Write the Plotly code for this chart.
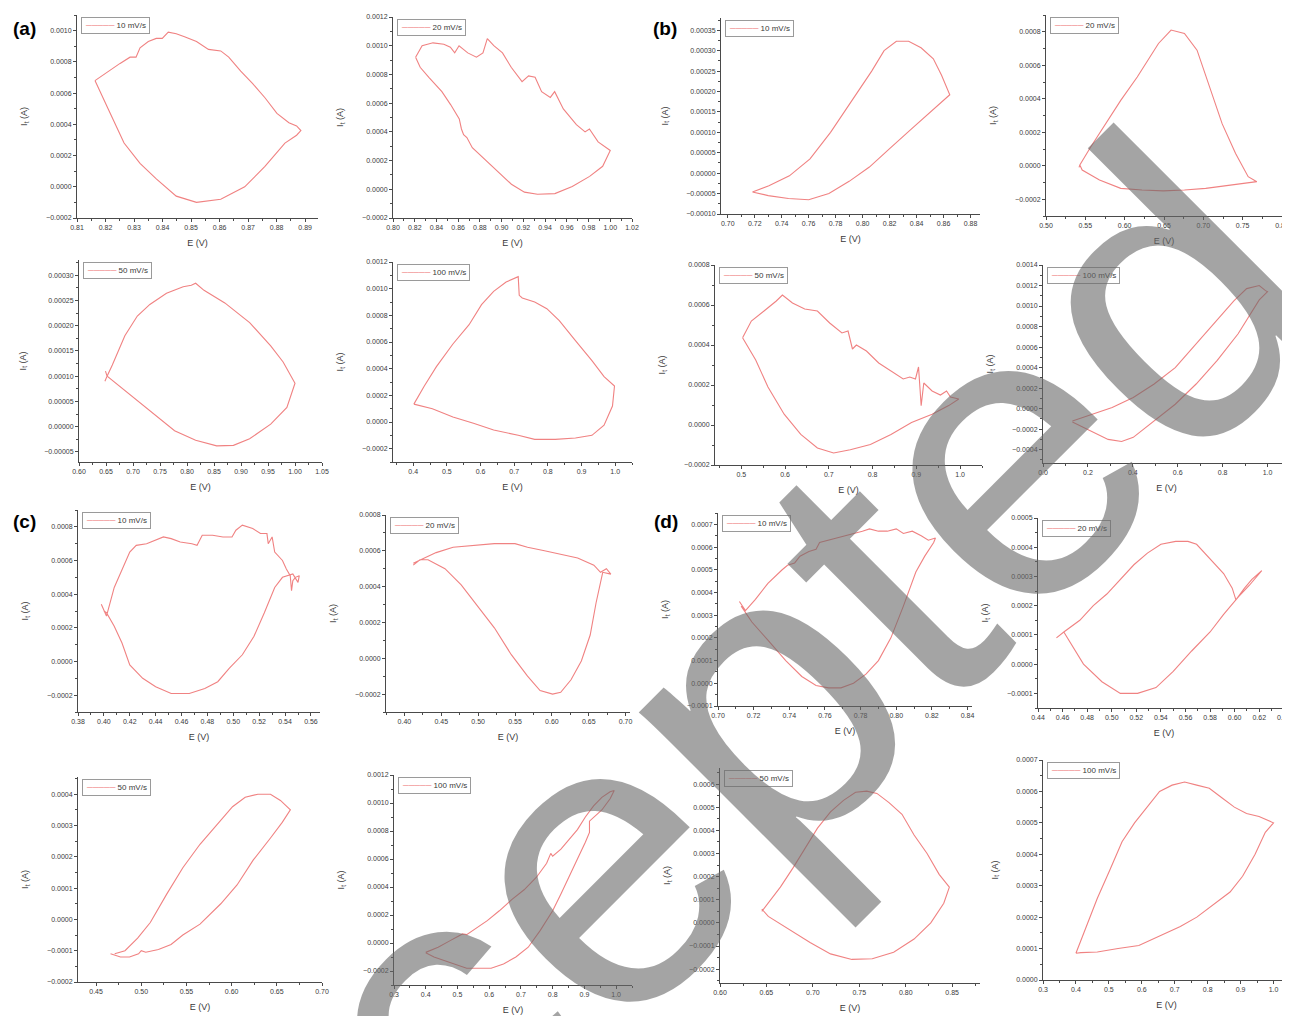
import plotly.graph_objects as go

# ---------------- data (E in V, I in A) ----------------
a10_E = [0.8163, 0.8209, 0.8251, 0.8286, 0.8307, 0.8321, 0.8350, 0.8378, 0.8399, 0.8420, 0.8448, 0.8477, 0.8519, 0.8561, 0.8604, 0.8632, 0.8674, 0.8716, 0.8759, 0.8801, 0.8843, 0.8870, 0.8885, 0.8870, 0.8829, 0.8759, 0.8688, 0.8604, 0.8519, 0.8448, 0.8378, 0.8321, 0.8265, 0.8209, 0.8163]
a10_I = [0.00068, 0.00074, 0.00079, 0.00083, 0.00083, 0.00089, 0.00093, 0.00095, 0.00095, 0.00099, 0.00098, 0.00096, 0.00093, 0.00088, 0.00087, 0.00083, 0.00074, 0.00066, 0.00057, 0.00047, 0.00041, 0.00039, 0.00036, 0.00033, 0.00028, 0.00013, 0.0, -0.00008, -0.0001, -0.00006, 0.00005, 0.00015, 0.00028, 0.0005, 0.00068]

a20_E = [0.8208, 0.8268, 0.8368, 0.8468, 0.8528, 0.8568, 0.8608, 0.8688, 0.8768, 0.8828, 0.8868, 0.8928, 0.9008, 0.9088, 0.9188, 0.9248, 0.9308, 0.9368, 0.9448, 0.9488, 0.9568, 0.9688, 0.9768, 0.9808, 0.9888, 1.0, 0.993, 0.981, 0.965, 0.949, 0.933, 0.921, 0.909, 0.897, 0.885, 0.873, 0.868, 0.865, 0.863, 0.861, 0.853, 0.845, 0.833, 0.825, 0.8208]
a20_I = [0.00092, 0.0010, 0.00102, 0.00101, 0.00099, 0.00095, 0.0010, 0.00095, 0.00092, 0.00095, 0.00105, 0.0010, 0.00095, 0.00085, 0.00075, 0.00079, 0.00078, 0.00068, 0.00064, 0.00068, 0.00056, 0.00045, 0.00040, 0.00042, 0.00033, 0.00027, 0.00016, 0.00009, 0.00002, -0.00003, -0.000035, -0.00002, 0.000035, 0.00012, 0.00021, 0.00029, 0.00036, 0.00038, 0.00042, 0.00049, 0.00059, 0.00068, 0.00078, 0.00085, 0.00092]

a50_E = [0.649, 0.652, 0.6617, 0.6849, 0.708, 0.7312, 0.762, 0.7929, 0.808, 0.816, 0.8315, 0.870, 0.916, 0.955, 0.978, 1.0, 0.985, 0.955, 0.916, 0.886, 0.855, 0.816, 0.777, 0.739, 0.700, 0.670, 0.652, 0.648]
a50_I = [0.00011, 0.00010, 0.000122, 0.00018, 0.000219, 0.000242, 0.000264, 0.000277, 0.00028, 0.000284, 0.00027, 0.000245, 0.000206, 0.00016, 0.000128, 0.000086, 0.000038, 0.000005, -0.000024, -0.000037, -0.000038, -0.000027, -0.000008, 0.000025, 0.000057, 0.000083, 0.0001, 0.00009]

a100_E = [0.402, 0.433, 0.469, 0.518, 0.566, 0.603, 0.639, 0.676, 0.712, 0.715, 0.724, 0.761, 0.797, 0.834, 0.882, 0.931, 0.967, 0.998, 0.992, 0.967, 0.931, 0.882, 0.822, 0.761, 0.712, 0.639, 0.579, 0.518, 0.457, 0.402]
a100_I = [0.000134, 0.00027, 0.000415, 0.000585, 0.00073, 0.00088, 0.00098, 0.00105, 0.00109, 0.00095, 0.00093, 0.0009, 0.00085, 0.00076, 0.00061, 0.00046, 0.00034, 0.00027, 0.00012, -0.000024, -0.0001, -0.00012, -0.00013, -0.00013, -0.0001, -0.00006, -0.00001, 0.000037, 0.0001, 0.000134]

b10_E = [0.7183, 0.7305, 0.7457, 0.761, 0.7762, 0.7915, 0.8067, 0.8159, 0.825, 0.8341, 0.8433, 0.8524, 0.8585, 0.8646, 0.850, 0.835, 0.820, 0.805, 0.790, 0.775, 0.760, 0.745, 0.730, 0.7183]
b10_I = [-0.000046, -0.000031, -0.0000066, 0.000035, 0.0001, 0.000175, 0.00025, 0.0003, 0.000323, 0.000323, 0.000307, 0.00028, 0.00024, 0.000192, 0.00015, 0.000105, 0.00006, 0.000015, -0.00002, -0.00005, -0.000065, -0.000062, -0.000055, -0.000046]

b20_E = [0.542, 0.543, 0.557, 0.573, 0.595, 0.616, 0.635, 0.643, 0.659, 0.676, 0.692, 0.708, 0.724, 0.741, 0.757, 0.768, 0.752, 0.730, 0.703, 0.676, 0.649, 0.622, 0.595, 0.568, 0.546, 0.543]
b20_I = [-0.00001, 0.000004, 0.000113, 0.00023, 0.00039, 0.00053, 0.00067, 0.00073, 0.00081, 0.00079, 0.00069, 0.00047, 0.00025, 0.000073, -0.000065, -0.000095, -0.000105, -0.000115, -0.000135, -0.000145, -0.00015, -0.000145, -0.000135, -0.000085, -0.000026, 0.000004]

b50_E = [0.503, 0.523, 0.552, 0.580, 0.594, 0.617, 0.645, 0.674, 0.702, 0.730, 0.744, 0.754, 0.763, 0.786, 0.814, 0.842, 0.870, 0.885, 0.898, 0.905, 0.911, 0.917, 0.936, 0.955, 0.969, 0.978, 0.997, 0.974, 0.936, 0.889, 0.842, 0.795, 0.749, 0.711, 0.674, 0.636, 0.598, 0.561, 0.533, 0.503]
b50_I = [0.000436, 0.00052, 0.00057, 0.00062, 0.00065, 0.00061, 0.00058, 0.00057, 0.00051, 0.00046, 0.00047, 0.00038, 0.00040, 0.00037, 0.00031, 0.00027, 0.00023, 0.00024, 0.00023, 0.00029, 0.000097, 0.00021, 0.00017, 0.00015, 0.00017, 0.00014, 0.00013, 0.000097, 0.000054, 0.000012, -0.000047, -0.000098, -0.000124, -0.00014, -0.000115, -0.000047, 0.000054, 0.00019, 0.000325, 0.000436]

b100_E = [0.131, 0.215, 0.308, 0.402, 0.495, 0.589, 0.682, 0.776, 0.850, 0.907, 0.963, 0.991, 1.0, 0.963, 0.925, 0.869, 0.776, 0.682, 0.589, 0.495, 0.402, 0.350, 0.290, 0.215, 0.131]
b100_I = [-0.00012, -0.000056, 0.00001, 0.000108, 0.00024, 0.0004, 0.00063, 0.00086, 0.00105, 0.00117, 0.0012, 0.00115, 0.00114, 0.00106, 0.00093, 0.00073, 0.00047, 0.00024, 0.000043, -0.00012, -0.00028, -0.00032, -0.0003, -0.00022, -0.00013]

c10_E = [0.398, 0.402, 0.408, 0.414, 0.420, 0.425, 0.433, 0.446, 0.452, 0.459, 0.468, 0.472, 0.476, 0.484, 0.492, 0.499, 0.502, 0.507, 0.515, 0.521, 0.526, 0.527, 0.530, 0.532, 0.538, 0.541, 0.544, 0.545, 0.546, 0.548, 0.551, 0.550, 0.546, 0.538, 0.532, 0.524, 0.516, 0.507, 0.497, 0.488, 0.478, 0.466, 0.452, 0.440, 0.430, 0.420, 0.414, 0.408, 0.402, 0.400]
c10_I = [0.00034, 0.00027, 0.00044, 0.00055, 0.00065, 0.00069, 0.00070, 0.00074, 0.00073, 0.00071, 0.00070, 0.00069, 0.00075, 0.00075, 0.00074, 0.00074, 0.00078, 0.00081, 0.00079, 0.00076, 0.00076, 0.00070, 0.00074, 0.00065, 0.00060, 0.00055, 0.00051, 0.00042, 0.00048, 0.00050, 0.00051, 0.00047, 0.00052, 0.00050, 0.00044, 0.00029, 0.00015, 0.00004, -0.00004, -0.00012, -0.00016, -0.00019, -0.00019, -0.00015, -0.0001, -0.00002, 0.00011, 0.00021, 0.00029, 0.00030]

c20_E = [0.412, 0.427, 0.443, 0.466, 0.494, 0.522, 0.550, 0.567, 0.590, 0.612, 0.635, 0.657, 0.666, 0.674, 0.680, 0.669, 0.660, 0.652, 0.640, 0.626, 0.612, 0.601, 0.584, 0.567, 0.545, 0.522, 0.500, 0.477, 0.455, 0.432, 0.421, 0.412]
c20_I = [0.00053, 0.00056, 0.00059, 0.00062, 0.00063, 0.00064, 0.00064, 0.00062, 0.00060, 0.00058, 0.00056, 0.00052, 0.00048, 0.00050, 0.00047, 0.00048, 0.00031, 0.00013, -0.000015, -0.00012, -0.00019, -0.0002, -0.00018, -0.0001, 0.00002, 0.00017, 0.00029, 0.00041, 0.00050, 0.00055, 0.00055, 0.00052]

d10_E = [0.712, 0.7154, 0.721, 0.728, 0.736, 0.739, 0.743, 0.746, 0.751, 0.755, 0.757, 0.762, 0.766, 0.771, 0.776, 0.781, 0.785, 0.790, 0.795, 0.800, 0.804, 0.809, 0.814, 0.818, 0.822, 0.821, 0.816, 0.811, 0.804, 0.797, 0.790, 0.783, 0.776, 0.769, 0.762, 0.755, 0.747, 0.738, 0.728, 0.719, 0.713]
d10_I = [0.00036, 0.00032, 0.00037, 0.00044, 0.00050, 0.00052, 0.00053, 0.00056, 0.00058, 0.00059, 0.00062, 0.00063, 0.00064, 0.00065, 0.00066, 0.00067, 0.00068, 0.00067, 0.00067, 0.00068, 0.00066, 0.00067, 0.00065, 0.00063, 0.00064, 0.00062, 0.00056, 0.00049, 0.00034, 0.00020, 0.00010, 0.00004, 0.0, -0.00002, -0.00002, -0.00001, 0.00003, 0.00010, 0.00019, 0.00027, 0.00034]

d20_E = [0.455, 0.461, 0.474, 0.485, 0.496, 0.507, 0.518, 0.529, 0.540, 0.552, 0.562, 0.569, 0.580, 0.591, 0.598, 0.601, 0.608, 0.614, 0.622, 0.612, 0.603, 0.591, 0.580, 0.565, 0.550, 0.536, 0.521, 0.507, 0.492, 0.477, 0.461]
d20_I = [0.00009, 0.00011, 0.00015, 0.00020, 0.00024, 0.00029, 0.00034, 0.00038, 0.00041, 0.00042, 0.00042, 0.00041, 0.00036, 0.00031, 0.00026, 0.00022, 0.00026, 0.00029, 0.00032, 0.00027, 0.00023, 0.00017, 0.00011, 0.000045, -0.000025, -0.00008, -0.0001, -0.0001, -0.00006, 0.0, 0.00011]

c50_E = [0.4706, 0.482, 0.496, 0.510, 0.528, 0.546, 0.565, 0.583, 0.601, 0.615, 0.629, 0.643, 0.654, 0.665, 0.656, 0.643, 0.624, 0.606, 0.588, 0.565, 0.546, 0.533, 0.519, 0.505, 0.500, 0.497, 0.487, 0.477, 0.466]
c50_I = [-0.00011, -0.0001, -0.00006, -0.00001, 0.00008, 0.000165, 0.00024, 0.0003, 0.00036, 0.00039, 0.0004, 0.0004, 0.00038, 0.00035, 0.00031, 0.00026, 0.00019, 0.00011, 0.00005, -0.000015, -0.00005, -0.00008, -0.000096, -0.000105, -0.0001, -0.00011, -0.00012, -0.00012, -0.00011]

c100_E = [0.400, 0.439, 0.477, 0.503, 0.516, 0.529, 0.555, 0.594, 0.632, 0.671, 0.710, 0.749, 0.781, 0.794, 0.800, 0.826, 0.852, 0.878, 0.903, 0.929, 0.955, 0.981, 0.994, 0.981, 0.955, 0.929, 0.916, 0.916, 0.903, 0.878, 0.852, 0.826, 0.800, 0.761, 0.723, 0.684, 0.645, 0.606, 0.567, 0.529, 0.490, 0.451, 0.426, 0.400]
c100_I = [-0.000067, -0.00003, 0.000017, 0.000053, 0.000065, 0.00006, 0.0001, 0.00016, 0.00023, 0.00031, 0.00038, 0.00047, 0.00057, 0.00064, 0.00062, 0.00067, 0.00074, 0.00081, 0.0009, 0.00098, 0.00104, 0.00108, 0.00109, 0.00103, 0.00095, 0.0009, 0.00087, 0.00079, 0.00072, 0.0006, 0.00047, 0.00035, 0.00023, 0.00009, -0.00003, -0.0001, -0.00015, -0.00018, -0.00018, -0.00018, -0.00015, -0.00012, -0.0001, -0.00007]

d50_E = [0.645, 0.652, 0.665, 0.679, 0.692, 0.705, 0.719, 0.733, 0.746, 0.758, 0.769, 0.782, 0.796, 0.809, 0.823, 0.836, 0.847, 0.841, 0.827, 0.809, 0.787, 0.764, 0.742, 0.719, 0.697, 0.674, 0.652, 0.645]
d50_I = [0.00005, 0.000085, 0.000155, 0.00024, 0.000325, 0.00041, 0.00048, 0.00053, 0.000565, 0.00057, 0.00056, 0.00052, 0.00047, 0.00038, 0.0003, 0.00021, 0.000155, 0.000085, 0.0, -0.00007, -0.000127, -0.000155, -0.000158, -0.000134, -0.000085, -0.000028, 0.000028, 0.00006]

d100_E = [0.400, 0.428, 0.465, 0.503, 0.540, 0.578, 0.616, 0.654, 0.692, 0.730, 0.767, 0.805, 0.843, 0.881, 0.918, 0.956, 1.000, 0.975, 0.944, 0.906, 0.868, 0.818, 0.767, 0.717, 0.654, 0.591, 0.528, 0.465, 0.415, 0.400]
d100_I = [0.000085, 0.00016, 0.00026, 0.00035, 0.00044, 0.0005, 0.00055, 0.0006, 0.00062, 0.00063, 0.00062, 0.00061, 0.00058, 0.00055, 0.00053, 0.00052, 0.0005, 0.00047, 0.0004, 0.00033, 0.00028, 0.00024, 0.0002, 0.00017, 0.00014, 0.00011, 0.0001, 0.000089, 0.000087, 0.000085]

scan_labels = ["10 mV/s", "20 mV/s", "50 mV/s", "100 mV/s"]
panel_letters = ["(a)", "(b)", "(c)", "(d)"]
x_title = "E (V)"
y_title = "I<sub>t</sub> (A)"
watermark = "Accepted"

# ---------------- layout spec (screen pixel boxes: left, right, top, bottom) ----------------
W, H = 1290, 1016
OFF = 8  # page body margin: the figure is drawn 8 px right/down of the window corner

def px(x):
    return (x - OFF) / W

def py(y):
    return 1 - (y - OFF) / H

panels = [
    # E, I, legend label, box, xrange, xdtick, xfmt, yrange, ydtick, yfmt
    (a10_E, a10_I, scan_labels[0], (77, 318, 15, 218), (0.81, 0.8945), 0.01, ".2f", (-0.0002, 0.0011), 0.0002, ".4f"),
    (a20_E, a20_I, scan_labels[1], (393, 632, 17, 218), (0.80, 1.02), 0.02, ".2f", (-0.0002, 0.0012), 0.0002, ".4f"),
    (b10_E, b10_I, scan_labels[0], (721, 980, 18, 214), (0.695, 0.887), 0.02, ".2f", (-0.0001, 0.00038), 0.00005, ".5f"),
    (b20_E, b20_I, scan_labels[1], (1046, 1282, 15, 216), (0.50, 0.80), 0.05, ".2f", (-0.0003, 0.0009), 0.0002, ".4f"),
    (a50_E, a50_I, scan_labels[2], (79, 322, 260, 462), (0.60, 1.05), 0.05, ".2f", (-0.00007, 0.00033), 0.00005, ".5f"),
    (a100_E, a100_I, scan_labels[3], (393, 632, 262, 462), (0.34, 1.05), 0.1, ".1f", (-0.0003, 0.0012), 0.0002, ".4f"),
    (b50_E, b50_I, scan_labels[2], (715, 982, 265, 465), (0.44, 1.05), 0.1, ".1f", (-0.0002, 0.0008), 0.0002, ".4f"),
    (b100_E, b100_I, scan_labels[3], (1043, 1290, 265, 463), (0.0, 1.1), 0.2, ".1f", (-0.00053, 0.0014), 0.0002, ".4f"),
    (c10_E, c10_I, scan_labels[0], (78, 320, 510, 712), (0.38, 0.567), 0.02, ".2f", (-0.0003, 0.0009), 0.0002, ".4f"),
    (c20_E, c20_I, scan_labels[1], (386, 630, 515, 712), (0.375, 0.706), 0.05, ".2f", (-0.0003, 0.0008), 0.0002, ".4f"),
    (d10_E, d10_I, scan_labels[0], (718, 972, 513, 706), (0.70, 0.8425), 0.02, ".2f", (-0.0001, 0.00075), 0.0001, ".4f"),
    (d20_E, d20_I, scan_labels[1], (1038, 1290, 518, 708), (0.44, 0.645), 0.02, ".2f", (-0.00015, 0.0005), 0.0001, ".4f"),
    (c50_E, c50_I, scan_labels[2], (78, 322, 777, 982), (0.43, 0.70), 0.05, ".2f", (-0.0002, 0.000455), 0.0001, ".4f"),
    (c100_E, c100_I, scan_labels[3], (394, 632, 775, 985), (0.30, 1.05), 0.1, ".1f", (-0.0003, 0.0012), 0.0002, ".4f"),
    (d50_E, d50_I, scan_labels[2], (720, 980, 768, 983), (0.60, 0.88), 0.05, ".2f", (-0.00026, 0.00067), 0.0001, ".4f"),
    (d100_E, d100_I, scan_labels[3], (1043, 1290, 760, 980), (0.30, 1.05), 0.1, ".1f", (0.0, 0.0007), 0.0001, ".4f"),
]

LINE = "#f08282"
AXC = "#4a4a4a"
TXT = "#3a3a3a"
FONT = "Liberation Sans"

fig = go.Figure()
layout = dict(
    width=W, height=H,
    margin=dict(l=0, r=0, t=0, b=0, pad=0, autoexpand=False),
    paper_bgcolor="white", plot_bgcolor="white",
    font=dict(family=FONT, color=TXT),
    showlegend=False,
)

annotations = []
for k, (E, I, name, box, xr, xd, xf, yr, yd, yf) in enumerate(panels, start=1):
    l, r, t, b = box
    sx = "" if k == 1 else str(k)
    fig.add_trace(go.Scatter(
        x=E, y=I, mode="lines", name=name,
        line=dict(color=LINE, width=1.1),
        xaxis="x" + sx, yaxis="y" + sx,
    ))
    common = dict(
        showline=True, linecolor=AXC, linewidth=1, mirror=False,
        ticks="outside", ticklen=3, tickwidth=1, tickcolor=AXC,
        tick0=0, showgrid=False, zeroline=False, automargin=False,
        tickfont=dict(size=7, color=TXT, family=FONT),
    )
    layout["xaxis" + sx] = dict(
        common, domain=[px(l), px(r)], range=list(xr), dtick=xd, tickformat=xf,
        anchor="y" + sx,
        minor=dict(ticks="outside", ticklen=2, dtick=xd / 2, tickcolor=AXC, tick0=0),
        title=dict(text=x_title, font=dict(size=9, color=TXT), standoff=9),
    )
    layout["yaxis" + sx] = dict(
        common, domain=[py(b), py(t)], range=list(yr), dtick=yd, tickformat=yf,
        anchor="x" + sx,
        minor=dict(ticks="outside", ticklen=2, dtick=yd / 2, tickcolor=AXC, tick0=0),
        title=dict(text=y_title, font=dict(size=9, color=TXT), standoff=16),
    )
    # legend box (sample line + scan-rate label) in the upper-left corner of each panel
    annotations.append(dict(
        text=f'<span style="color:{LINE}">\u2500\u2500\u2500\u2500\u2500</span> {name}',
        x=px(l + 4), y=py(t + 2), xref="paper", yref="paper",
        xanchor="left", yanchor="top", showarrow=False, align="left",
        font=dict(size=8, color=TXT, family=FONT),
        bordercolor="#9a9a9a", borderwidth=1, borderpad=3, bgcolor="white",
    ))

letter_pos = [(24, 29), (665, 29), (24, 521), (666, 521)]
for txt, (lx, ly) in zip(panel_letters, letter_pos):
    annotations.append(dict(
        text=f"<b>{txt}</b>", x=px(lx), y=py(ly), xref="paper", yref="paper",
        showarrow=False, xanchor="center", yanchor="middle",
        font=dict(size=19, color="black", family=FONT),
    ))
annotations.append(dict(
    text=watermark, x=px(633), y=py(826), xref="paper", yref="paper",
    showarrow=False, xanchor="center", yanchor="middle", textangle=-45,
    font=dict(size=415, color="rgb(105,105,105)", family=FONT), opacity=0.6,
))
layout["annotations"] = annotations
fig.update_layout(**layout)

fig.write_html("out.html")
